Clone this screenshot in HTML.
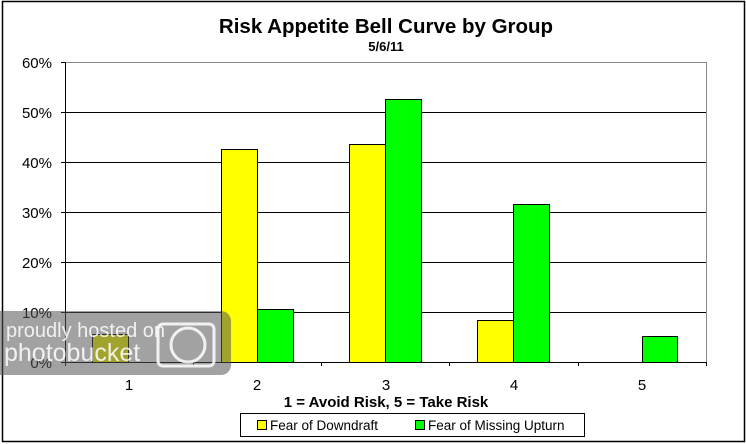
<!DOCTYPE html>
<html><head><meta charset="utf-8"><style>body{margin:0;background:#fff}svg{display:block}</style></head>
<body>
<svg width="746" height="444" xmlns="http://www.w3.org/2000/svg" font-family="Liberation Sans, Arial, sans-serif">
<rect x="0" y="0" width="746" height="444" fill="#fff"/>
<rect x="2.5" y="1.5" width="742" height="440" fill="#fff" stroke="#000" stroke-width="1.5"/>
<text x="386" y="33" font-size="20.5" font-weight="bold" text-anchor="middle">Risk Appetite Bell Curve by Group</text>
<text x="386" y="51" font-size="13" font-weight="bold" text-anchor="middle">5/6/11</text>
<g stroke="#000" stroke-width="1">
<line x1="65" y1="62.5" x2="706" y2="62.5" stroke="#888"/>
<line x1="65" y1="112.5" x2="706" y2="112.5"/>
<line x1="65" y1="162.5" x2="706" y2="162.5"/>
<line x1="65" y1="212.5" x2="706" y2="212.5"/>
<line x1="65" y1="262.5" x2="706" y2="262.5"/>
<line x1="65" y1="312.5" x2="706" y2="312.5"/>
<line x1="706.5" y1="62" x2="706.5" y2="362" stroke="#888"/>
<line x1="65.5" y1="62" x2="65.5" y2="366"/>
<line x1="61" y1="62.5" x2="65" y2="62.5"/><line x1="61" y1="112.5" x2="65" y2="112.5"/><line x1="61" y1="162.5" x2="65" y2="162.5"/><line x1="61" y1="212.5" x2="65" y2="212.5"/><line x1="61" y1="262.5" x2="65" y2="262.5"/><line x1="61" y1="312.5" x2="65" y2="312.5"/><line x1="61" y1="362.5" x2="65" y2="362.5"/>
</g>
<g stroke="#000" stroke-width="1">
<rect x="92.5" y="334.5" width="36" height="28" fill="#ffff00"/>
<rect x="221.5" y="149.5" width="36" height="213" fill="#ffff00"/>
<rect x="257.5" y="309.5" width="36" height="53" fill="#00ff00"/>
<rect x="349.5" y="144.5" width="36" height="218" fill="#ffff00"/>
<rect x="385.5" y="99.5" width="36" height="263" fill="#00ff00"/>
<rect x="477.5" y="320.5" width="36" height="42" fill="#ffff00"/>
<rect x="513.5" y="204.5" width="36" height="158" fill="#00ff00"/>
<rect x="642.5" y="336.5" width="35" height="26" fill="#00ff00"/>
<line x1="65" y1="362.5" x2="707" y2="362.5"/>
<line x1="193.5" y1="362" x2="193.5" y2="366"/><line x1="321.5" y1="362" x2="321.5" y2="366"/><line x1="449.5" y1="362" x2="449.5" y2="366"/><line x1="578.5" y1="362" x2="578.5" y2="366"/><line x1="706.5" y1="362" x2="706.5" y2="366"/>
</g>
<g font-size="15" text-anchor="end">
<text x="52" y="68">60%</text><text x="52" y="118">50%</text><text x="52" y="168">40%</text><text x="52" y="218">30%</text><text x="52" y="268">20%</text><text x="52" y="318">10%</text><text x="52" y="368">0%</text>
</g>
<g font-size="15" text-anchor="middle">
<text x="129" y="390">1</text><text x="257" y="390">2</text><text x="386" y="390">3</text><text x="514" y="390">4</text><text x="642" y="390">5</text>
</g>
<text x="386" y="407" font-size="15" font-weight="bold" text-anchor="middle">1 = Avoid Risk, 5 = Take Risk</text>
<rect x="240.5" y="413.5" width="344" height="23" fill="#fff" stroke="#000"/>
<rect x="257.5" y="420.5" width="9" height="9" fill="#ffff00" stroke="#000"/>
<text x="270" y="430" font-size="13.5">Fear of Downdraft</text>
<rect x="415.5" y="420.5" width="9" height="9" fill="#00ff00" stroke="#000"/>
<text x="428" y="430" font-size="13.5">Fear of Missing Upturn</text>
<rect x="-10" y="311" width="241" height="64" rx="10" fill="#555" fill-opacity="0.55"/>
<text x="6" y="337" font-size="20" fill="#fff" fill-opacity="0.85">proudly hosted on</text>
<text x="4" y="361" font-size="25" fill="#fff" fill-opacity="0.85">photobucket</text>
<rect x="158" y="324" width="56" height="42" rx="5" fill="none" stroke="#fff" stroke-opacity="0.85" stroke-width="3"/>
<circle cx="188" cy="345" r="17" fill="none" stroke="#fff" stroke-opacity="0.85" stroke-width="3"/>
</svg>
</body></html>
